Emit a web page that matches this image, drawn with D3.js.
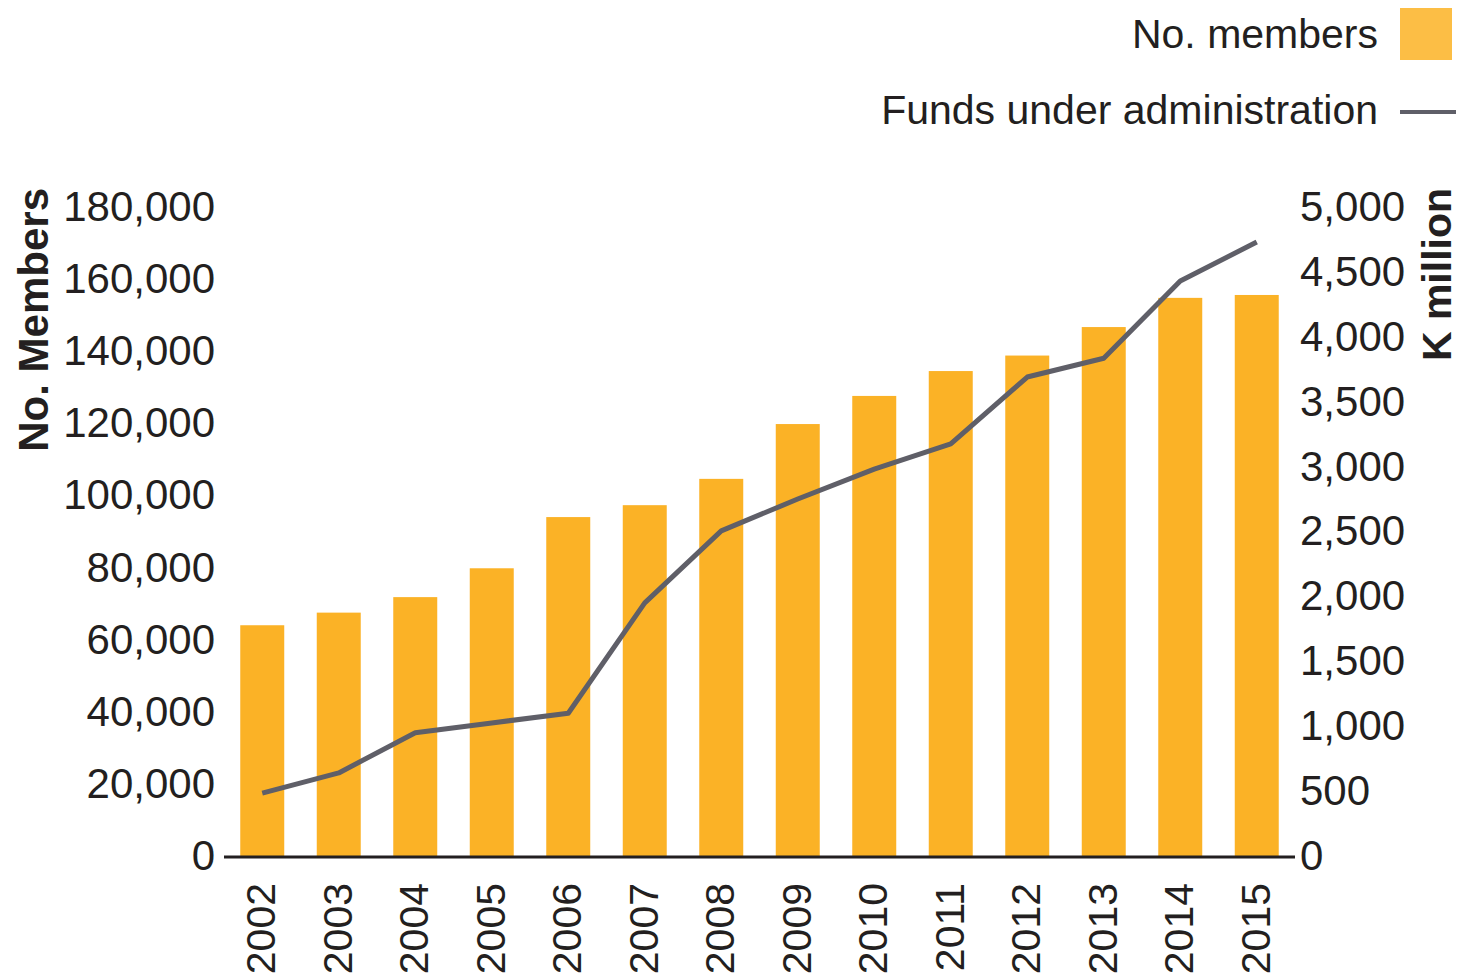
<!DOCTYPE html>
<html>
<head>
<meta charset="utf-8">
<script src="https://cdnjs.cloudflare.com/ajax/libs/d3/7.8.5/d3.min.js"></script>
<style>
    body { margin: 0; background: #fff; }
    text { font-family: "Liberation Sans", Arial, sans-serif; fill: #231f20; }
</style>
</head>
<body>
<script>
var years = ["2002", "2003", "2004", "2005", "2006", "2007", "2008", "2009", "2010", "2011", "2012", "2013", "2014", "2015"];
var members = [64000, 67500, 71800, 79800, 94000, 97300, 104600, 119800, 127600, 134500, 138800, 146700, 154800, 155600];
var funds = [485, 640, 950, 1025, 1100, 1950, 2505, 2750, 2980, 3175, 3690, 3835, 4430, 4730];
var leftTicks = [0, 20000, 40000, 60000, 80000, 100000, 120000, 140000, 160000, 180000];
var rightTicks = [0, 500, 1000, 1500, 2000, 2500, 3000, 3500, 4000, 4500, 5000];

var w = 1459;
var h = 980;
var barColor = "#fbb226";
var lineColor = "#5f5f68";
var fmt = d3.format(",");

var svg = d3.select("body").append("svg").attr("width", w).attr("height", h);

// scales
var xScale = d3.scaleBand().domain(years).range([224, 1295]).paddingInner(0.425).paddingOuter(0.2125);
var yLeft = d3.scaleLinear().domain([0, 180000]).range([856, 207]);
var yRight = d3.scaleLinear().domain([0, 5000]).range([856, 207]);

// bars
svg.selectAll("rect.bar")
    .data(members)
    .enter()
    .append("rect")
    .attr("class", "bar")
    .attr("x", function (d, i) { return xScale(years[i]); })
    .attr("y", function (d) { return yLeft(d); })
    .attr("width", xScale.bandwidth())
    .attr("height", function (d) { return yLeft(0) - yLeft(d); })
    .attr("fill", barColor);

// line
var line = d3.line()
    .x(function (d, i) { return xScale(years[i]) + xScale.bandwidth() / 2; })
    .y(function (d) { return yRight(d); });

svg.append("path")
    .datum(funds)
    .attr("d", line)
    .attr("fill", "none")
    .attr("stroke", lineColor)
    .attr("stroke-width", 5)
    .attr("stroke-linejoin", "round");

// baseline
svg.append("line")
    .attr("x1", 224).attr("x2", 1295)
    .attr("y1", yLeft(0) + 1).attr("y2", yLeft(0) + 1)
    .attr("stroke", "#231f20")
    .attr("stroke-width", 3);

// left axis
var leftAxis = svg.append("g")
    .attr("transform", "translate(215,0)")
    .call(d3.axisLeft(yLeft).tickValues(leftTicks).tickFormat(fmt).tickSize(0).tickPadding(0));
leftAxis.select(".domain").remove();
leftAxis.selectAll("text").attr("font-size", "42px").attr("font-family", null).attr("fill", "#231f20");

// right axis
var rightAxis = svg.append("g")
    .attr("transform", "translate(1300,0)")
    .call(d3.axisRight(yRight).tickValues(rightTicks).tickFormat(fmt).tickSize(0).tickPadding(0));
rightAxis.select(".domain").remove();
rightAxis.selectAll("text").attr("font-size", "42px").attr("font-family", null).attr("fill", "#231f20");

// x labels
svg.selectAll("text.year")
    .data(years)
    .enter()
    .append("text")
    .attr("class", "year")
    .text(function (d) { return d; })
    .attr("transform", function (d) {
        return "translate(" + (xScale(d) + xScale.bandwidth() / 2 + 13) + ",883) rotate(-90)";
    })
    .attr("text-anchor", "end")
    .attr("font-size", "41px");

// axis titles
svg.append("text")
    .text("No. Members")
    .attr("transform", "translate(48,188) rotate(-90)")
    .attr("text-anchor", "end")
    .attr("font-size", "42px")
    .attr("font-weight", "bold");

svg.append("text")
    .text("K million")
    .attr("transform", "translate(1451,188) rotate(-90)")
    .attr("text-anchor", "end")
    .attr("font-size", "41px")
    .attr("font-weight", "bold");

// legend
svg.append("text")
    .text("No. members")
    .attr("x", 1378).attr("y", 48)
    .attr("text-anchor", "end")
    .attr("font-size", "41px");
svg.append("rect")
    .attr("x", 1400).attr("y", 8)
    .attr("width", 52).attr("height", 52)
    .attr("fill", "#fcbe45");

svg.append("text")
    .text("Funds under administration")
    .attr("x", 1378).attr("y", 124)
    .attr("text-anchor", "end")
    .attr("font-size", "41px");
svg.append("line")
    .attr("x1", 1400).attr("x2", 1456)
    .attr("y1", 112).attr("y2", 112)
    .attr("stroke", lineColor)
    .attr("stroke-width", 4);
</script>
</body>
</html>
